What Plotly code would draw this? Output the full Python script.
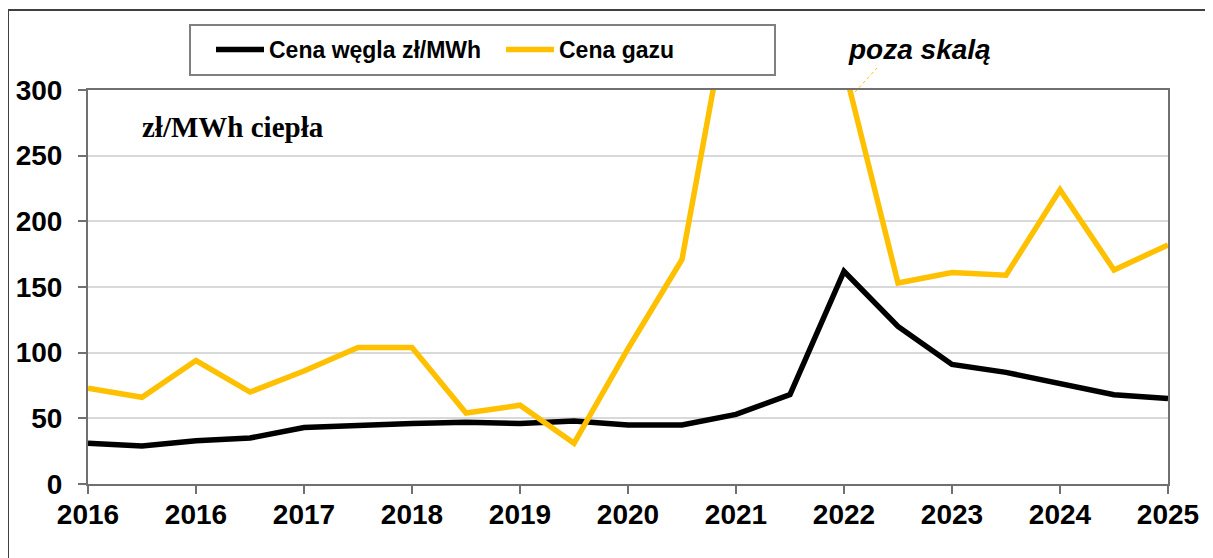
import plotly.graph_objects as go

# half-year periods (index positions), labels every second point
tick_labels = ["2016", "2016", "2017", "2018", "2019", "2020", "2021", "2022", "2023", "2024", "2025"]
n_points = 21
period_index = list(range(n_points))

coal_price = [31, 29, 33, 35, 43, 45, 46, 47, 46, 48, 45, 45, 53, 68, 162, 120, 91, 85, 76, 68, 65]
gas_price = [73, 66, 94, 70, 86, 104, 104, 54, 60, 31, 103, 171, 395, 600, 318, 153, 161, 159, 224, 163, 182]

GOLD = "#FFC000"
FONT = "Liberation Sans, Arial, sans-serif"

# page body adds an 8px offset; plot area target: x 88..1168, y 90..484 in the window
OFF = 8
L, T, PW, PH = 88 - OFF, 90 - OFF, 1080, 394

def px(xw):
    return (xw - 88) / PW

def py(yw):
    return (484 - yw) / PH

fig = go.Figure()
fig.add_trace(go.Scatter(x=period_index, y=coal_price, mode="lines", name="Cena węgla zł/MWh",
                         line=dict(color="black", width=5.5)))
fig.add_trace(go.Scatter(x=period_index, y=gas_price, mode="lines", name="Cena gazu",
                         line=dict(color=GOLD, width=5.5)))

fig.update_layout(
    width=1213 - OFF, height=558 - OFF,
    margin=dict(l=L, r=45, t=T, b=558 - OFF - T - PH, autoexpand=False),
    paper_bgcolor="white", plot_bgcolor="white",
    font=dict(family=FONT, color="black"),
    showlegend=True,
    legend=dict(orientation="h", x=px(211), y=py(28), xanchor="left", yanchor="top",
                borderwidth=0, bgcolor="rgba(0,0,0,0)",
                font=dict(size=23, family=FONT, weight="bold"),
                itemwidth=48, entrywidth=227, tracegroupgap=0),
)
fig.update_xaxes(
    range=[0, n_points - 1],
    tickvals=list(range(0, n_points, 2)), ticktext=tick_labels,
    ticks="outside", ticklen=8, tickcolor="#707070", tickwidth=2,
    showline=True, linecolor="#707070", linewidth=2, mirror=True,
    showgrid=False, zeroline=False, automargin=False,
    tickfont=dict(size=28, family=FONT, weight="bold", color="black"),
    ticklabelstandoff=-4,
)
fig.update_yaxes(
    range=[0, 300], tickvals=[0, 50, 100, 150, 200, 250, 300],
    ticks="outside", ticklen=8, tickcolor="#707070", tickwidth=2,
    showline=True, linecolor="#707070", linewidth=2, mirror=True,
    showgrid=True, gridcolor="#d9d9d9", gridwidth=1.5, zeroline=False, automargin=False,
    tickfont=dict(size=28, family=FONT, weight="bold", color="black"),
    ticklabelstandoff=10,
)

# outer frame
fig.add_shape(type="rect", xref="paper", yref="paper",
              x0=px(8), x1=1.2, y0=-0.5, y1=py(10),
              line=dict(color="#404040", width=2), fillcolor="rgba(0,0,0,0)", layer="below")
# legend frame
fig.add_shape(type="rect", xref="paper", yref="paper",
              x0=px(190), x1=px(775), y0=py(75), y1=py(25),
              line=dict(color="#808080", width=2), fillcolor="rgba(0,0,0,0)")

fig.add_annotation(xref="paper", yref="paper", x=px(140), y=py(127),
                   xanchor="left", yanchor="middle", showarrow=False,
                   text="<b>zł/MWh ciepła</b>",
                   font=dict(family="Liberation Serif, Times New Roman, serif", size=29, color="black"))
fig.add_annotation(xref="paper", yref="paper", x=px(919), y=py(50),
                   xanchor="center", yanchor="middle", showarrow=False,
                   text="<b><i>poza skalą</i></b>",
                   font=dict(family=FONT, size=28, color="black"))
fig.add_shape(type="line", xref="paper", yref="paper",
              x0=px(855), y0=py(92), x1=px(877), y1=py(68),
              line=dict(color=GOLD, width=1, dash="dot"))

fig.write_html("out.html")
